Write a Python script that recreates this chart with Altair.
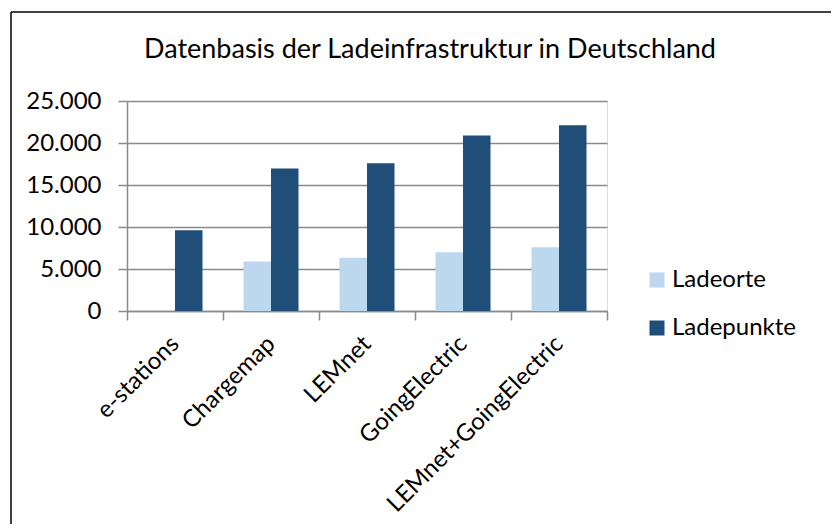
import altair as alt
import pandas as pd

categories = ["e-stations", "Chargemap", "LEMnet", "GoingElectric", "LEMnet+GoingElectric"]
ladeorte = [None, 5900, 6350, 7000, 7600]
ladepunkte = [9600, 16950, 17600, 20900, 22100]
series = ["Ladeorte", "Ladepunkte"]
colors = ["#BDD7EE", "#1F4E79"]
y_ticks = [0, 5000, 10000, 15000, 20000, 25000]
title_text = "Datenbasis der Ladeinfrastruktur in Deutschland"

rows = []
for c, a, b in zip(categories, ladeorte, ladepunkte):
    rows.append({"Quelle": c, "Serie": series[0], "Wert": a})
    rows.append({"Quelle": c, "Serie": series[1], "Wert": b})
df = pd.DataFrame(rows)

FONT = "Lato"
GRAY = "#8A8A8A"
W, H = 480, 210

bars = alt.Chart(df).mark_bar().encode(
    x=alt.X("Quelle:N", sort=categories,
            scale=alt.Scale(paddingInner=0, paddingOuter=0),
            axis=alt.Axis(title=None, labelAngle=-45, labelAlign="right", labelBaseline="middle",
                          labelFont=FONT, labelFontSize=24, labelColor="black", labelPadding=20,
                          labelLimit=500,
                          tickBand="extent", tickSize=9, tickColor=GRAY, tickWidth=1.5,
                          domainColor=GRAY, domainWidth=1.5, grid=False)),
    xOffset=alt.XOffset("Serie:N", sort=series,
                        scale=alt.Scale(paddingInner=0, paddingOuter=0.745)),
    y=alt.Y("Wert:Q", scale=alt.Scale(domain=[0, 25000]),
            axis=alt.Axis(title=None, values=y_ticks,
                          labelExpr="replace(format(datum.value, ','), ',', '.')",
                          labelFont=FONT, labelFontSize=24, labelColor="black", labelPadding=17,
                          tickSize=9, tickColor=GRAY, tickWidth=1.5,
                          domainColor=GRAY, domainWidth=1.5,
                          grid=True, gridColor=GRAY, gridWidth=1.5)),
    color=alt.Color("Serie:N", sort=series,
                    scale=alt.Scale(domain=series, range=colors),
                    legend=alt.Legend(title=None, orient="none", legendX=518, legendY=167,
                                      symbolType="square", symbolSize=225, symbolStrokeWidth=0,
                                      labelFont=FONT, labelFontSize=24, labelColor="black",
                                      labelOffset=3, rowPadding=24)),
)

one = alt.Data(values=[{"k": 1}])
top_line = alt.Chart(one).mark_rule(color="black", strokeWidth=1.5).encode(
    x=alt.value(-116), x2=alt.value(720), y=alt.value(-89))
left_line = alt.Chart(one).mark_rule(color="black", strokeWidth=1.5).encode(
    x=alt.value(-116), y=alt.value(-89), y2=alt.value(440))
title = alt.Chart(one).mark_text(font=FONT, fontSize=27, color="black", align="center",
                                 baseline="alphabetic").encode(
    x=alt.value(303), y=alt.value(-43), text=alt.value(title_text))

chart = alt.layer(bars, top_line, left_line, title).properties(
    width=W, height=H,
    autosize=alt.AutoSizeParams(type="none"),
    padding={"left": 119, "top": 93, "right": 224, "bottom": 213},
).configure_view(stroke=None).configure(background="white")

chart.save("out.html", embed_options={"renderer": "svg", "actions": False})
